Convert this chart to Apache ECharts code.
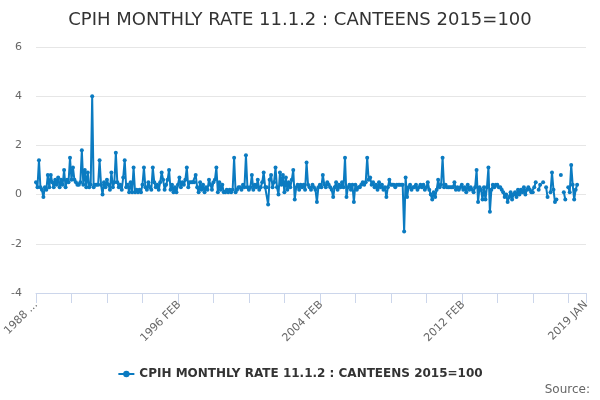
<!DOCTYPE html>
<html>
<head>
<meta charset="utf-8">
<script src="https://cdn.jsdelivr.net/npm/echarts@6/dist/echarts.min.js"></script>
<style>
  html, body { margin: 0; padding: 0; background: #fff; }
  #chart { width: 600px; height: 400px; }
</style>
</head>
<body>
<div id="chart"></div>
<script>
const seriesName = 'CPIH MONTHLY RATE 11.1.2 : CANTEENS 2015=100';
const monthNames = ['JAN', 'FEB', 'MAR', 'APR', 'MAY', 'JUN', 'JUL', 'AUG', 'SEP', 'OCT', 'NOV', 'DEC'];

// monthly rate, one row per year, 1988 JAN .. 2019 JAN
const rate1988 = [0.5, 0.3, 1.4, 0.3, 0.2, -0.1, 0.3, 0.2, 0.8, 0.3, 0.8, 0.5];
const rate1989 = [0.3, 0.6, 0.4, 0.7, 0.3, 0.6, 0.4, 1.0, 0.3, 0.6, 0.5, 1.5];
const rate1990 = [0.6, 1.1, 0.6, 0.5, 0.4, 0.4, 0.5, 1.8, 0.4, 1.0, 0.3, 0.9];
const rate1991 = [0.3, 0.4, 4.0, 0.3, 0.4, 0.4, 0.4, 1.4, 0.4, 0.0, 0.5, 0.3];
const rate1992 = [0.6, 0.4, 0.2, 0.9, 0.3, 0.5, 1.7, 0.5, 0.3, 0.4, 0.2, 0.7];
const rate1993 = [1.4, 0.3, 0.4, 0.1, 0.5, 0.1, 1.1, 0.1, 0.2, 0.1, 0.2, 0.1];
const rate1994 = [0.4, 1.1, 0.3, 0.2, 0.5, 0.3, 0.2, 1.1, 0.5, 0.3, 0.4, 0.2];
const rate1995 = [0.5, 0.9, 0.6, 0.2, 0.4, 0.6, 1.0, 0.2, 0.4, 0.1, 0.3, 0.1];
const rate1996 = [0.4, 0.7, 0.3, 0.5, 0.4, 0.6, 1.1, 0.3, 0.5, 0.5, 0.5, 0.5];
const rate1997 = [0.8, 0.3, 0.1, 0.5, 0.2, 0.4, 0.1, 0.3, 0.2, 0.6, 0.4, 0.2];
const rate1998 = [0.5, 0.6, 1.1, 0.1, 0.5, 0.2, 0.4, 0.1, 0.1, 0.2, 0.1, 0.2];
const rate1999 = [0.1, 0.2, 1.5, 0.1, 0.2, 0.3, 0.3, 0.2, 0.4, 0.3, 1.6, 0.3];
const rate2000 = [0.2, 0.3, 0.8, 0.2, 0.4, 0.3, 0.6, 0.2, 0.3, 0.5, 0.9, 0.3];
const rate2001 = [0.3, -0.4, 0.6, 0.8, 0.3, 0.5, 1.1, 0.3, 0.0, 0.9, 0.4, 0.8];
const rate2002 = [0.1, 0.7, 0.2, 0.5, 0.3, 0.6, 1.0, -0.2, 0.3, 0.4, 0.2, 0.4];
const rate2003 = [0.3, 0.4, 0.2, 1.3, 0.4, 0.3, 0.2, 0.4, 0.3, 0.2, -0.3, 0.3];
const rate2004 = [0.4, 0.3, 0.8, 0.4, 0.3, 0.5, 0.4, 0.3, 0.2, -0.1, 0.3, 0.5];
const rate2005 = [0.2, 0.4, 0.3, 0.5, 0.3, 1.5, -0.1, 0.3, 0.4, 0.2, 0.4, -0.3];
const rate2006 = [0.4, 0.2, 0.3, 0.3, 0.4, 0.5, 0.4, 0.5, 1.5, 0.6, 0.7, 0.4];
const rate2007 = [0.5, 0.3, 0.4, 0.2, 0.5, 0.3, 0.4, 0.2, 0.3, -0.1, 0.3, 0.6];
const rate2008 = [0.4, 0.4, 0.4, 0.3, 0.4, 0.4, 0.4, 0.4, 0.4, -1.5, 0.7, -0.1];
const rate2009 = [0.3, 0.4, 0.2, 0.3, 0.3, 0.4, 0.2, 0.3, 0.4, 0.3, 0.4, 0.2];
const rate2010 = [0.3, 0.5, 0.2, 0.0, -0.2, 0.1, -0.1, 0.2, 0.6, 0.3, 0.4, 1.5];
const rate2011 = [0.3, 0.4, 0.3, 0.3, 0.3, 0.3, 0.3, 0.5, 0.2, 0.3, 0.2, 0.3];
const rate2012 = [0.4, 0.2, 0.3, 0.1, 0.4, 0.2, 0.3, 0.2, 0.1, 0.3, 1.0, -0.3];
const rate2013 = [0.3, 0.2, -0.2, 0.3, -0.2, 0.3, 1.1, -0.7, 0.2, 0.4, 0.3, 0.4];
const rate2014 = [0.4, 0.3, 0.3, 0.2, 0.1, -0.1, 0.0, -0.3, -0.1, 0.1, -0.2, 0.0];
const rate2015 = [0.1, -0.1, 0.2, 0.0, 0.2, 0.1, 0.3, 0.0, 0.2, 0.3, 0.2, 0.1];
const rate2016 = [0.1, 0.3, 0.5, null, 0.2, 0.4, null, 0.5, null, 0.3, -0.1, null];
const rate2017 = [0.1, 0.9, 0.2, -0.3, -0.2, null, null, 0.8, null, 0.1, -0.2, null];
const rate2018 = [0.3, 0.1, 1.2, 0.4, -0.2, 0.2, 0.4, null, null, null, null, null];
const rate2019 = [null];

const yearRows = [
    rate1988, rate1989, rate1990, rate1991, rate1992, rate1993, rate1994, rate1995,
    rate1996, rate1997, rate1998, rate1999, rate2000, rate2001, rate2002, rate2003,
    rate2004, rate2005, rate2006, rate2007, rate2008, rate2009, rate2010, rate2011,
    rate2012, rate2013, rate2014, rate2015, rate2016, rate2017, rate2018, rate2019
];

// which category labels are printed under the axis
const labelIndexes = [0, 97, 193, 289, 372];

const categories = [];
const values = [];
yearRows.forEach(function (row, y) {
    row.forEach(function (v, m) {
        categories.push((1988 + y) + ' ' + monthNames[m]);
        values.push(v);
    });
});
const lastIndex = categories.length - 1;

var myChart = echarts.init(document.getElementById('chart'));
var option = {
    animation: false,
    title: {
        text: seriesName,
        left: 'center',
        top: 6,
        textStyle: {
            fontFamily: 'DejaVu Sans',
            fontSize: 18,
            fontWeight: 'normal',
            color: '#333333'
        }
    },
    grid: {
        left: 36,
        right: 14,
        top: 47,
        bottom: 107
    },
    xAxis: {
        type: 'category',
        data: categories,
        boundaryGap: false,
        axisLine: { onZero: false, lineStyle: { color: '#ccd6eb' } },
        axisTick: {
            length: 10,
            lineStyle: { color: '#ccd6eb' },
            interval: function (index) {
                return index % 24 === 0 || index === lastIndex;
            }
        },
        axisLabel: {
            rotate: 45,
            color: '#666666',
            fontFamily: 'DejaVu Sans',
            fontSize: 11,
            margin: 10,
            interval: function (index) {
                return labelIndexes.indexOf(index) !== -1;
            },
            formatter: function (value, index) {
                return index === 0 ? value.slice(0, 4) + ' ...' : value;
            }
        },
        splitLine: { show: false }
    },
    yAxis: {
        type: 'value',
        min: -4,
        max: 6,
        interval: 2,
        axisLine: { show: false },
        axisTick: { show: false },
        axisLabel: {
            color: '#666666',
            fontFamily: 'DejaVu Sans',
            fontSize: 11,
            margin: 14
        },
        splitLine: { lineStyle: { color: '#e6e6e6' } }
    },
    legend: {
        bottom: 15,
        left: 'center',
        itemWidth: 16,
        itemHeight: 8,
        textStyle: {
            fontFamily: 'DejaVu Sans',
            fontSize: 12,
            fontWeight: 'bold',
            color: '#333333'
        },
        data: [seriesName]
    },
    graphic: [{
        type: 'text',
        right: 10,
        bottom: 4,
        style: {
            text: 'Source:',
            fill: '#666666',
            font: '12px "DejaVu Sans"'
        }
    }],
    series: [{
        name: seriesName,
        type: 'line',
        data: values,
        color: '#0b7bc1',
        symbol: 'circle',
        symbolSize: 4,
        showSymbol: true,
        showAllSymbol: true,
        lineStyle: { width: 2 },
        connectNulls: false
    }]
};
myChart.setOption(option);
</script>
</body>
</html>
